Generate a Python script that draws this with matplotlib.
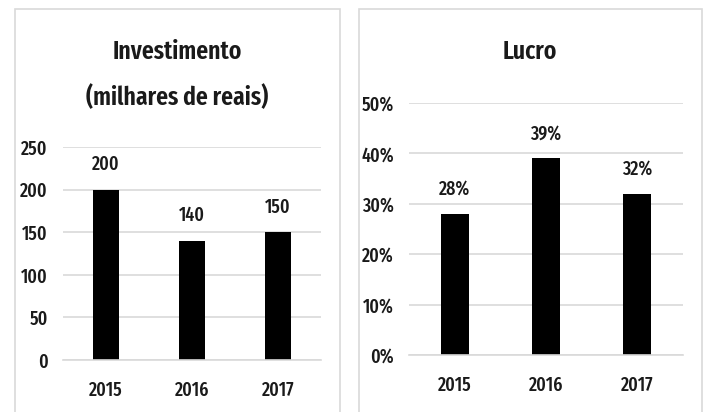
import matplotlib
matplotlib.use("Agg")
import matplotlib.pyplot as plt
from matplotlib.patches import Rectangle
from matplotlib.ticker import PercentFormatter

plt.rcParams.update({"font.family": ["Fira Sans Extra Condensed", "DejaVu Sans"],
                     "font.size": 14})

years = ["2015", "2016", "2017"]
investimento = [200, 140, 150]
lucro = [0.28, 0.39, 0.32]
lucro_labels = ["28%", "39%", "32%"]

GRID = "#d9d9d9"
TXT = "#1a1a1a"
W, H = 705, 412

fig = plt.figure(figsize=(W / 100, H / 100), dpi=100)

# panel frames (bottom edge runs off the picture)
for x0, x1 in [(15, 340), (359, 702)]:
    fig.patches.append(Rectangle((x0 / W, -0.05), (x1 - x0) / W, 1.05 - 9 / H,
                                 transform=fig.transFigure, fill=False,
                                 edgecolor=GRID, lw=1.2))


def style(ax):
    for s in ["top", "right", "left"]:
        ax.spines[s].set_visible(False)
    ax.spines["bottom"].set_color(GRID)
    ax.spines["bottom"].set_linewidth(1.2)
    ax.tick_params(length=0, labelcolor=TXT)
    ax.tick_params(axis="x", pad=15)
    ax.tick_params(axis="y", pad=11)
    ax.grid(axis="y", color=GRID, lw=1.2)
    ax.set_axisbelow(True)
    ax.set_xlim(-0.5, 2.5)
    for lab in ax.get_xticklabels() + ax.get_yticklabels():
        lab.set_fontsize(14)
        lab.set_fontweight(500)


ax1 = fig.add_axes([63 / W, 1 - 360 / H, 258 / W, 213 / H])
x = range(len(years))
ax1.bar(x, investimento, width=0.31, color="black")
ax1.set_ylim(0, 250)
ax1.set_yticks(range(0, 251, 50))
ax1.set_xticks(list(x), years)
for i, v in enumerate(investimento):
    ax1.annotate(str(v), (i, v), xytext=(0, 18), textcoords="offset points",
                 ha="center", va="center", fontsize=14, fontweight=500, color=TXT)
style(ax1)
fig.text(177 / W, 1 - 52 / H, "Investimento", ha="center", va="center",
         fontsize=18.5, fontweight=600, color=TXT)
fig.text(177 / W, 1 - 97 / H, "(milhares de reais)", ha="center", va="center",
         fontsize=18.5, fontweight=600, color=TXT)

ax2 = fig.add_axes([409 / W, 1 - 355 / H, 274 / W, 252 / H])
ax2.bar(x, lucro, width=0.31, color="black")
ax2.set_ylim(0, 0.5)
ax2.set_yticks([0, 0.1, 0.2, 0.3, 0.4, 0.5])
ax2.yaxis.set_major_formatter(PercentFormatter(1.0, decimals=0))
ax2.set_xticks(list(x), years)
for i, (v, t) in enumerate(zip(lucro, lucro_labels)):
    ax2.annotate(t, (i, v), xytext=(0, 18), textcoords="offset points",
                 ha="center", va="center", fontsize=14, fontweight=500, color=TXT)
style(ax2)
fig.text(530 / W, 1 - 52 / H, "Lucro", ha="center", va="center",
         fontsize=18.5, fontweight=600, color=TXT)

fig.savefig("out.png", dpi=100)
